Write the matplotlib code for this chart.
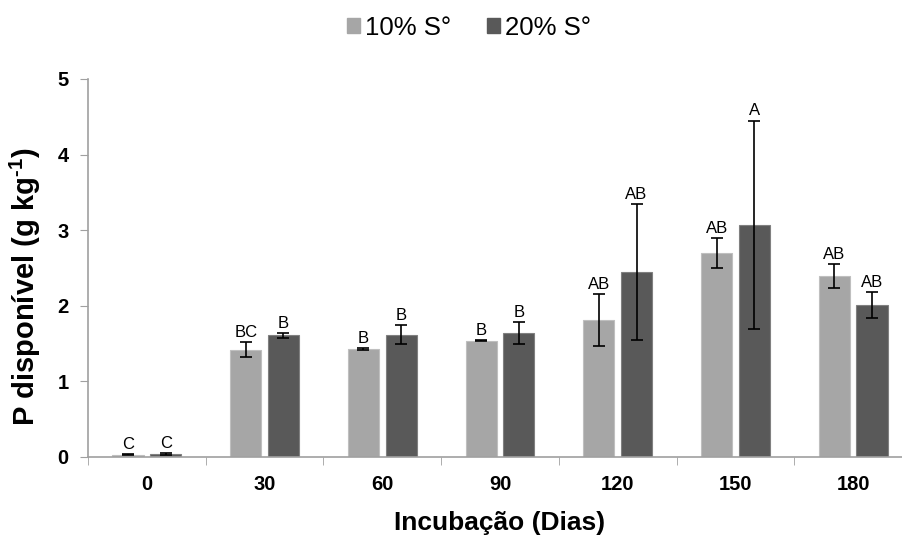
import matplotlib
matplotlib.use("Agg")
import matplotlib.pyplot as plt
import numpy as np

plt.rcParams['font.family'] = ['Liberation Sans', 'DejaVu Sans']
plt.rcParams['mathtext.fontset'] = 'custom'
plt.rcParams['mathtext.rm'] = 'Liberation Sans:bold'
plt.rcParams['mathtext.bf'] = 'Liberation Sans:bold'

categories = ["0", "30", "60", "90", "120", "150", "180"]
s10 = [0.03, 1.42, 1.43, 1.54, 1.81, 2.70, 2.39]
s10_err = [0.01, 0.10, 0.015, 0.005, 0.34, 0.20, 0.16]
s20 = [0.04, 1.61, 1.62, 1.64, 2.45, 3.07, 2.01]
s20_err = [0.01, 0.03, 0.13, 0.14, 0.90, 1.38, 0.17]
s10_letters = ["C", "BC", "B", "B", "AB", "AB", "AB"]
s20_letters = ["C", "B", "B", "B", "AB", "A", "AB"]
series_names = ["10% S°", "20% S°"]

fig = plt.figure(figsize=(9.02, 5.35), dpi=100)
ax = fig.add_axes([88/902, 78/535, 824/902, 378/535])

x = np.arange(len(categories))
w = 0.265
off = 0.16
axis_col = "#A0A0A0"
c1, c2 = "#A6A6A6", "#595959"

ax.bar(x - off, s10, w, color=c1, edgecolor="#BFBFBF", linewidth=0.8,
       yerr=s10_err, error_kw=dict(ecolor="black", elinewidth=1.2, capsize=4, capthick=1.2),
       label=series_names[0])
ax.bar(x + off, s20, w, color=c2, edgecolor="#808080", linewidth=0.8,
       yerr=s20_err, error_kw=dict(ecolor="black", elinewidth=1.2, capsize=4, capthick=1.2),
       label=series_names[1])

for xi, v, e, t in zip(x - off, s10, s10_err, s10_letters):
    ax.annotate(t, (xi, v + e), xytext=(0, 1.5), textcoords="offset points",
                ha="center", va="bottom", fontsize=12)
for xi, v, e, t in zip(x + off, s20, s20_err, s20_letters):
    ax.annotate(t, (xi, v + e), xytext=(0, 1.5), textcoords="offset points",
                ha="center", va="bottom", fontsize=12)

ax.set_xlim(-0.5, len(categories) - 0.5)
ax.set_ylim(0, 5)
ax.set_yticks(range(6))
ax.set_xticks(x)
ax.set_xticklabels(categories, fontsize=14.5, fontweight="bold")
ax.set_xticks(np.arange(-0.5, len(categories)), minor=True)
ax.tick_params(axis="x", which="major", length=0, pad=13)
ax.tick_params(axis="x", which="minor", length=6, color=axis_col, direction="out")
ax.tick_params(axis="y", length=6, color=axis_col, direction="out", pad=8)
for lab in ax.get_yticklabels():
    lab.set_fontsize(14.5)
    lab.set_fontweight("bold")

for s in ["top", "right"]:
    ax.spines[s].set_visible(False)
for s in ["left", "bottom"]:
    ax.spines[s].set_color(axis_col)
    ax.spines[s].set_linewidth(1.2)

ax.set_xlabel("Incubação (Dias)", fontsize=19, fontweight="bold", labelpad=12)
ax.set_ylabel("P disponível (g kg$^{\\text{-1}}$)", fontsize=21, fontweight="bold",
              va="center", ha="center")
ax.yaxis.set_label_coords(-0.0765, 0.45)

handles = [plt.Rectangle((0, 0), 1, 1, color=c1), plt.Rectangle((0, 0), 1, 1, color=c2)]
fig.legend(handles, series_names, loc="center", bbox_to_anchor=(0.52, 0.948), ncol=2,
           frameon=False, fontsize=18.5, handlelength=0.5, handleheight=0.5,
           handletextpad=0.2, columnspacing=1.4)

fig.savefig("out.png", dpi=100)
